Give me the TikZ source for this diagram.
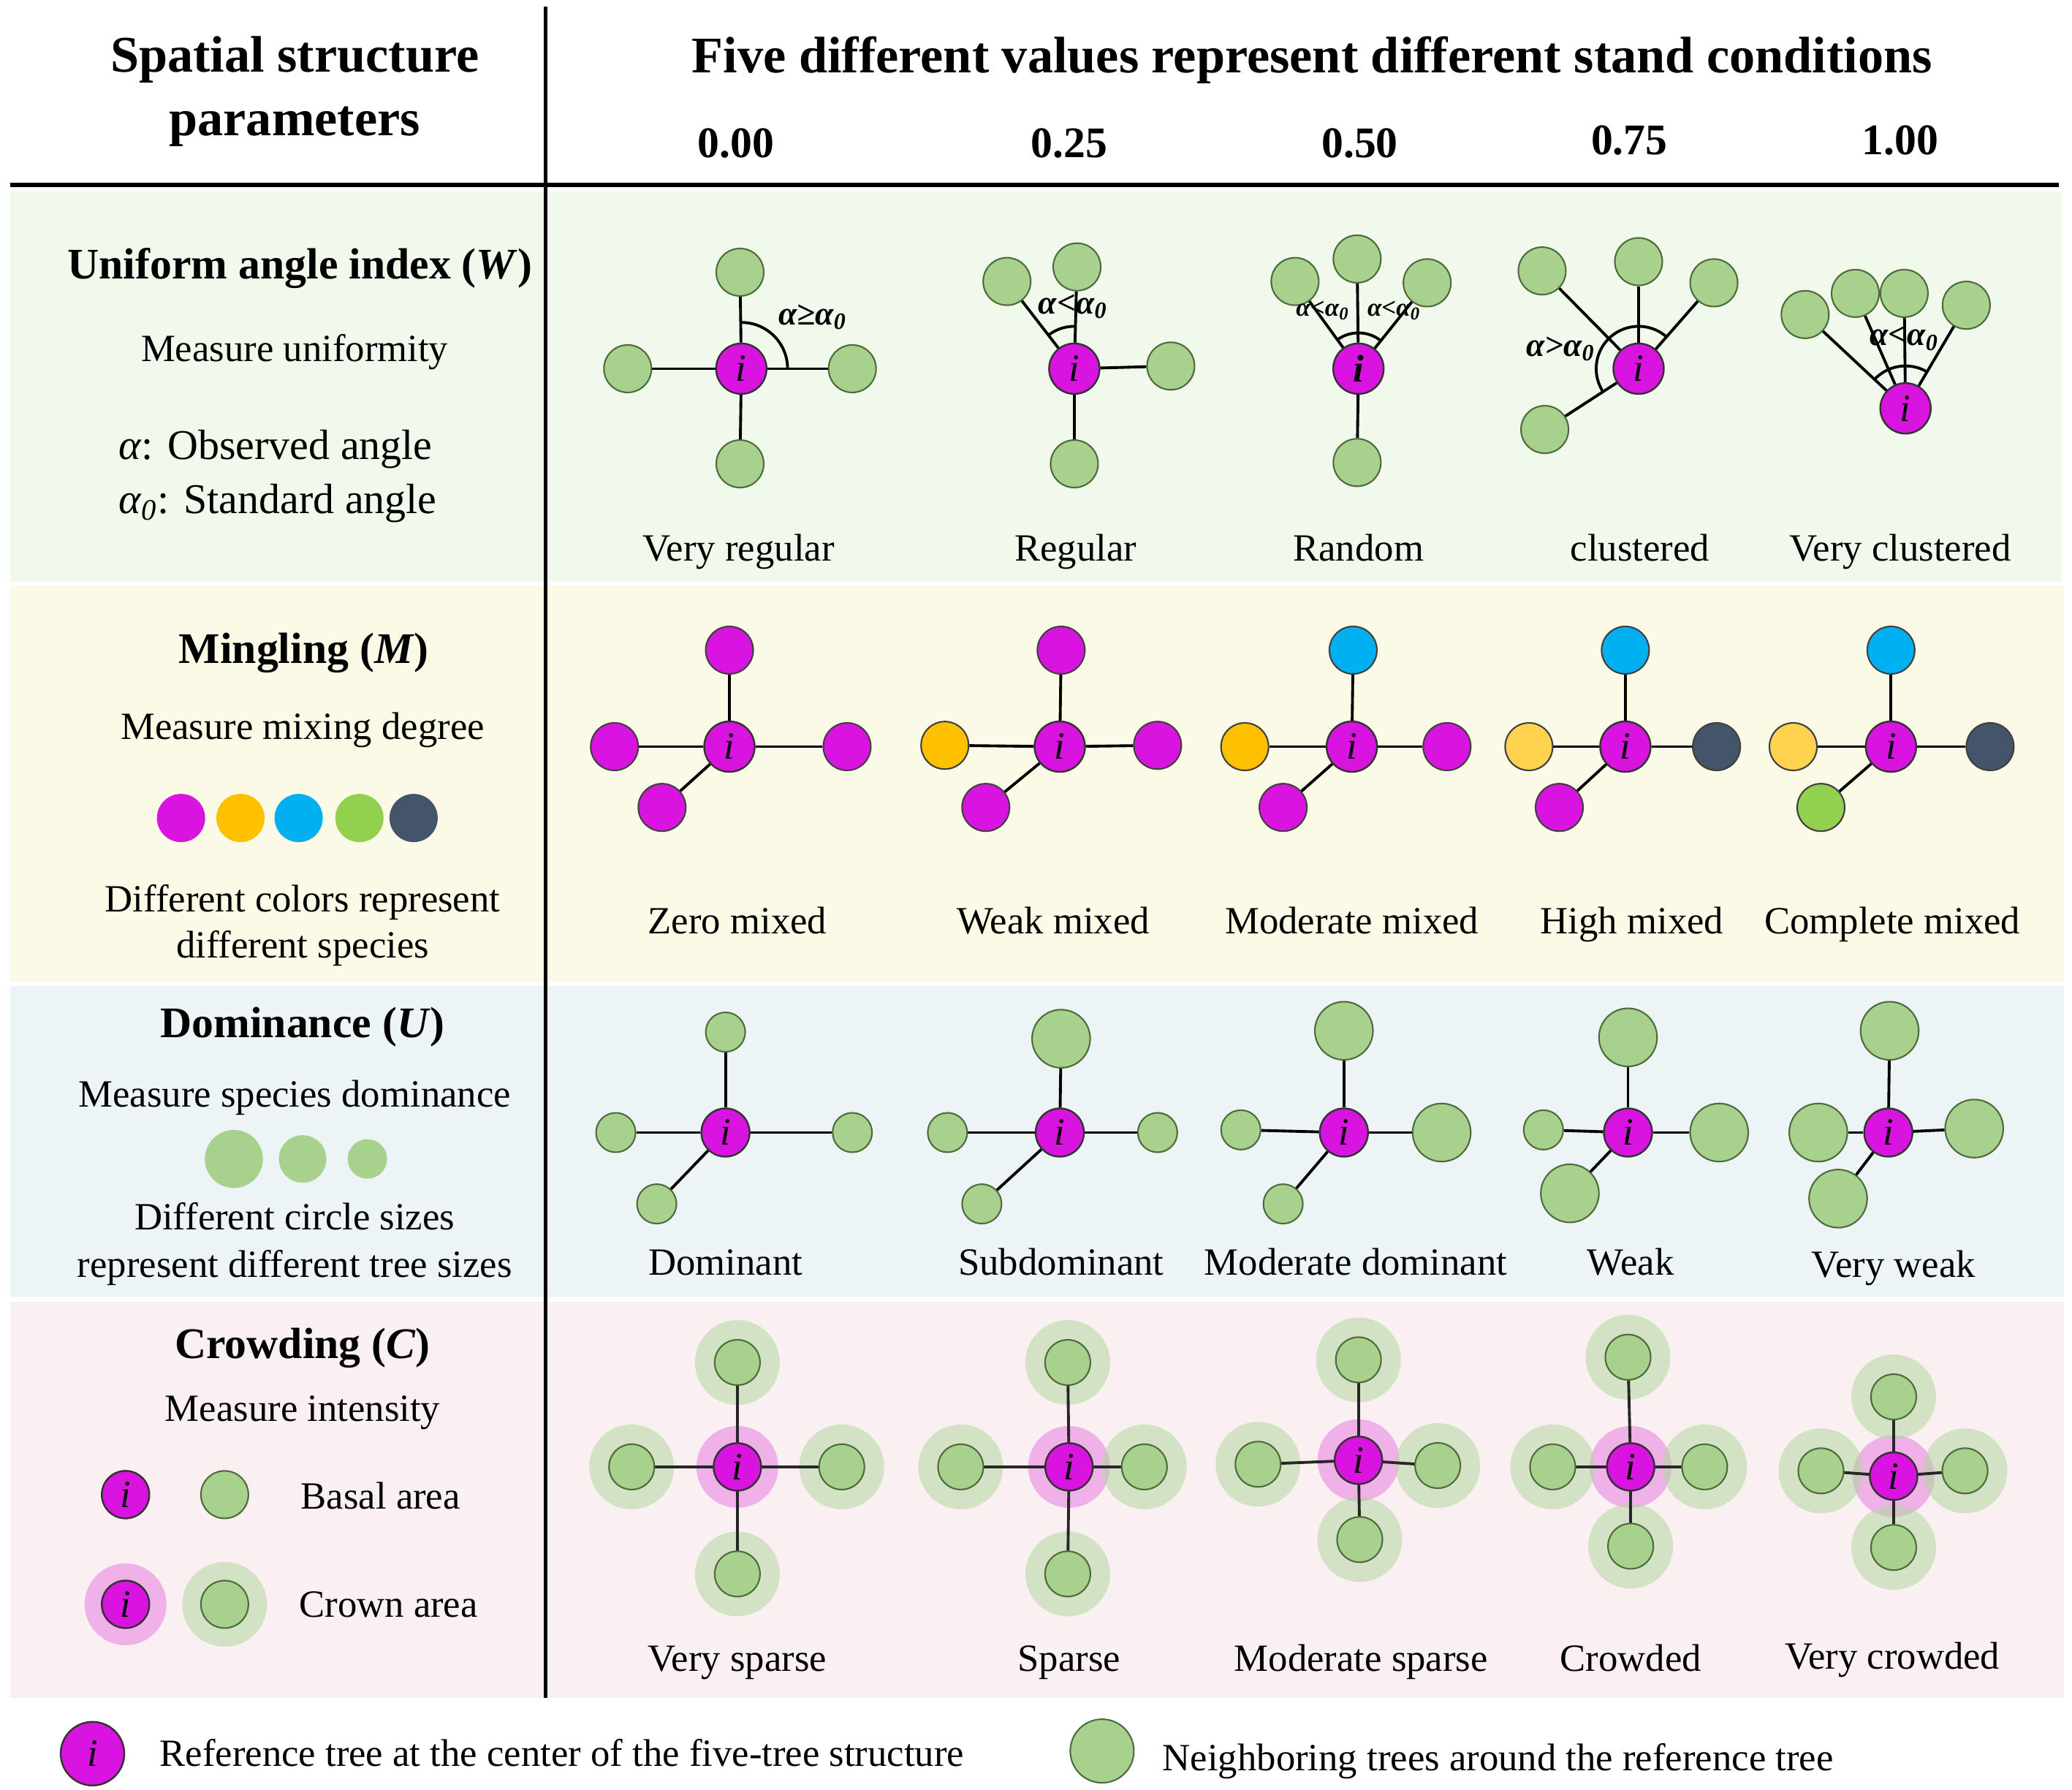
\documentclass[tikz,border=0pt]{standalone}
\usepackage{fontspec}
\setmainfont{Liberation Serif}
\definecolor{ngreen}{HTML}{A9D18E}
\definecolor{nbd}{HTML}{4E6B3C}
\definecolor{mag}{HTML}{D914E1}
\definecolor{orng}{HTML}{FFC000}
\definecolor{lorng}{HTML}{FFD34F}
\definecolor{cyn}{HTML}{00B0F0}
\definecolor{lgrn}{HTML}{92D050}
\definecolor{slate}{HTML}{44546A}
\definecolor{bgW}{HTML}{F1F8EC}
\definecolor{bgM}{HTML}{FAFAE6}
\definecolor{bgU}{HTML}{EDF4F5}
\definecolor{bgC}{HTML}{FAF0F2}
\definecolor{halom}{HTML}{E87FE3}
\definecolor{halog}{HTML}{B4D7A0}
\begin{document}
\begin{tikzpicture}[x=0.01808cm,y=-0.01808cm,
  ngr/.style={circle,draw=nbd,line width=0.6pt,fill=ngreen,inner sep=0pt,minimum size=#1},
  ngr/.default=0.65cm,
  refc/.style={circle,draw=black!80,line width=0.7pt,fill=mag,inner sep=0pt,minimum size=#1,font=\fontsize{15}{15}\selectfont\itshape},
  refc/.default=0.69cm,
  spc/.style={circle,draw=black!75,line width=0.6pt,fill=#1,inner sep=0pt,minimum size=0.65cm},
  dot/.style={circle,fill=#1,inner sep=0pt,minimum size=0.66cm},
  hm/.style={circle,fill=halom,fill opacity=0.55,inner sep=0pt,minimum size=#1},
  hm/.default=1.12cm,
  hg/.style={circle,fill=halog,fill opacity=0.55,inner sep=0pt,minimum size=#1},
  hg/.default=1.16cm,
  link/.style={line width=1.1pt},
  lab/.style={font=\fontsize{15}{18}\selectfont,text height=0.68em,text depth=0.22em,yshift=-0.095cm},
  big/.style={font=\fontsize{16.5}{20}\selectfont,text height=0.68em,text depth=0.22em,yshift=-0.095cm},
  ttl/.style={font=\fontsize{17}{20}\selectfont\bfseries,text height=0.68em,text depth=0.22em,yshift=-0.1cm},
  hdr/.style={font=\fontsize{20}{24.7}\selectfont\bfseries},
  val/.style={font=\fontsize{17}{20}\selectfont\bfseries,text height=0.68em,text depth=0.22em,yshift=-0.1cm},
  ang/.style={font=\fontsize{13}{13}\selectfont\bfseries\itshape,inner sep=1pt},
  angs/.style={font=\fontsize{10}{10}\selectfont\bfseries\itshape,inner sep=1pt}]
\useasboundingbox (0,0) rectangle (1568,1354);
\fill[white] (0,0) rectangle (1568,1354);
% row backgrounds
\fill[bgW] (8,145) rectangle (1560,440);
\fill[bgM] (8,443) rectangle (1562,743);
\fill[bgU] (8,746) rectangle (1562,982);
\fill[bgC] (8,985) rectangle (1562,1285);
% table rules
\draw[line width=1.5pt] (8,140) -- (1558,140);
\draw[line width=1.5pt] (413,5) -- (413,1285);
% header
\node[hdr,align=center] (hl) at (223,69) {Spatial structure\\parameters};
\node[hdr,text height=0.68em,text depth=0.22em,yshift=-0.12cm] (hr) at (993,44) {Five different values represent different stand conditions};
\node[val] (v1) at (557,109) {0.00};
\node[val] (v2) at (809,109) {0.25};
\node[val] (v3) at (1029,109) {0.50};
\node[val] (v4) at (1233,107) {0.75};
\node[val] (v5) at (1438,107) {1.00};

% ===== W row =====
\node[ttl] (tw) at (227,201) {Uniform angle index (\textit{W})};
\node[lab] (tw2) at (223,264) {Measure uniformity};
\node[big,anchor=west] (tw3) at (83,338) {\textit{α}: Observed angle};
\node[big,anchor=west] (tw4) at (83,379) {\textit{α}\textsubscript{\textit{0}}: Standard angle};
% col1
\node[refc] (wa) at (561,279) {i};
\node[ngr] (wa1) at (560,206) {};
\node[ngr] (wa2) at (475,279) {};
\node[ngr] (wa3) at (645,279) {};
\node[ngr] (wa4) at (560,351) {};
\foreach \n in {wa1,wa2,wa3,wa4} \draw[link] (wa) -- (\n);
\draw[link] (wa.center) ++(0:0.633cm) arc[start angle=0,end angle=90,radius=0.633cm];
\node[ang] (wal) at (615,240) {α≥α\textsubscript{0}};
% col2
\node[refc] (wb) at (813,279) {i};
\node[ngr] (wb1) at (815,202) {};
\node[ngr] (wb2) at (762,213) {};
\node[ngr] (wb3) at (886,277) {};
\node[ngr] (wb4) at (813,351) {};
\foreach \n in {wb1,wb2,wb3,wb4} \draw[link] (wb) -- (\n);
\draw[link] (wb.center) ++(88.5:0.58cm) arc[start angle=88.5,end angle=127.7,radius=0.58cm];
\node[ang] (wbl) at (812,232) {α<α\textsubscript{0}};
% col3
\node[refc] (wc) at (1028,279) {\bfseries i};
\node[ngr] (wc1) at (1027,196) {};
\node[ngr] (wc2) at (980,213) {};
\node[ngr] (wc3) at (1080,214) {};
\node[ngr] (wc4) at (1027,350) {};
\foreach \n in {wc1,wc2,wc3,wc4} \draw[link] (wc) -- (\n);
\draw[link] (wc.center) ++(51.3:0.49cm) arc[start angle=51.3,end angle=126,radius=0.49cm];
\node[angs] (wcl1) at (1001,235) {α<α\textsubscript{0}};
\node[angs] (wcl2) at (1055,235) {α<α\textsubscript{0}};
% col4
\node[refc] (wd) at (1240,279) {i};
\node[ngr] (wd1) at (1240,198) {};
\node[ngr] (wd2) at (1167,205) {};
\node[ngr] (wd3) at (1297,214) {};
\node[ngr] (wd4) at (1169,325) {};
\foreach \n in {wd1,wd2,wd3,wd4} \draw[link] (wd) -- (\n);
\draw[link] (wd.center) ++(48.8:0.58cm) arc[start angle=48.8,end angle=213,radius=0.58cm];
\node[ang] (wdl) at (1181,264) {α>α\textsubscript{0}};
% col5
\node[refc] (we) at (1442,309) {i};
\node[ngr] (we1) at (1366,238) {};
\node[ngr] (we2) at (1404,222) {};
\node[ngr] (we3) at (1441,222) {};
\node[ngr] (we4) at (1488,231) {};
\foreach \n in {we1,we2,we3,we4} \draw[link] (we) -- (\n);
\draw[link] (we.center) ++(59.5:0.58cm) arc[start angle=59.5,end angle=137,radius=0.58cm];
\node[ang] (wel) at (1441,256) {α<α\textsubscript{0}};
% labels
\node[lab] (wla) at (559,415) {Very regular};
\node[lab] (wlb) at (814,415) {Regular};
\node[lab] (wlc) at (1028,415) {Random};
\node[lab] (wld) at (1241,415) {clustered};
\node[lab] (wle) at (1438,415) {Very clustered};

% ===== M row =====
\node[ttl] (tm) at (230,492) {Mingling (\textit{M})};
\node[lab] (tm2) at (229,550) {Measure mixing degree};
\node[dot=mag] (d1) at (137,619) {};
\node[dot=orng] (d2) at (182,619) {};
\node[dot=cyn] (d3) at (226,619) {};
\node[dot=lgrn] (d4) at (272,619) {};
\node[dot=slate] (d5) at (313,619) {};
\node[lab] (tm3) at (229,680) {Different colors represent};
\node[lab] (tm4) at (229,715) {different species};
% col1
\node[refc] (ma) at (552,565) {i};
\node[spc=mag] (ma1) at (552,492) {};
\node[spc=mag] (ma2) at (465,565) {};
\node[spc=mag] (ma3) at (641,565) {};
\node[spc=mag] (ma4) at (501,611) {};
\foreach \n in {ma1,ma2,ma3,ma4} \draw[link] (ma) -- (\n);
% col2
\node[refc] (mb) at (802,565) {i};
\node[spc=mag] (mb1) at (803,492) {};
\node[spc=orng] (mb2) at (715,564) {};
\node[spc=mag] (mb3) at (876,564) {};
\node[spc=mag] (mb4) at (746,611) {};
\foreach \n in {mb1,mb2,mb3,mb4} \draw[link] (mb) -- (\n);
% col3
\node[refc] (mc) at (1023,565) {i};
\node[spc=cyn] (mc1) at (1024,492) {};
\node[spc=orng] (mc2) at (942,565) {};
\node[spc=mag] (mc3) at (1095,565) {};
\node[spc=mag] (mc4) at (971,611) {};
\foreach \n in {mc1,mc2,mc3,mc4} \draw[link] (mc) -- (\n);
% col4
\node[refc] (md) at (1230,565) {i};
\node[spc=cyn] (md1) at (1230,492) {};
\node[spc=lorng] (md2) at (1157,565) {};
\node[spc=slate] (md3) at (1299,565) {};
\node[spc=mag] (md4) at (1180,611) {};
\foreach \n in {md1,md2,md3,md4} \draw[link] (md) -- (\n);
% col5
\node[refc] (me) at (1431,565) {i};
\node[spc=cyn] (me1) at (1431,492) {};
\node[spc=lorng] (me2) at (1357,565) {};
\node[spc=slate] (me3) at (1506,565) {};
\node[spc=lgrn] (me4) at (1378,611) {};
\foreach \n in {me1,me2,me3,me4} \draw[link] (me) -- (\n);
\node[lab] (mla) at (558,697) {Zero mixed};
\node[lab] (mlb) at (797,697) {Weak mixed};
\node[lab] (mlc) at (1023,697) {Moderate mixed};
\node[lab] (mld) at (1235,697) {High mixed};
\node[lab] (mle) at (1432,697) {Complete mixed};

% ===== U row =====
\node[ttl] (tu) at (229,775) {Dominance (\textit{U})};
\node[lab] (tu2) at (223,828) {Measure species dominance};
\node[dot=ngreen,minimum size=0.795cm] (s1) at (177,877) {};
\node[dot=ngreen,minimum size=0.65cm] (s2) at (229,877) {};
\node[dot=ngreen,minimum size=0.54cm] (s3) at (278,877) {};
\node[lab] (tu3) at (223,921) {Different circle sizes};
\node[lab] (tu4) at (223,957) {represent different tree sizes};
% col1
\node[refc=0.66cm] (ua) at (549,857) {i};
\node[ngr=0.54cm] (ua1) at (549,781) {};
\node[ngr=0.54cm] (ua2) at (466,857) {};
\node[ngr=0.54cm] (ua3) at (645,857) {};
\node[ngr=0.54cm] (ua4) at (497,911) {};
\foreach \n in {ua1,ua2,ua3,ua4} \draw[link] (ua) -- (\n);
% col2
\node[refc=0.66cm] (ub) at (802,857) {i};
\node[ngr=0.795cm] (ub1) at (803,786) {};
\node[ngr=0.54cm] (ub2) at (717,857) {};
\node[ngr=0.54cm] (ub3) at (876,857) {};
\node[ngr=0.54cm] (ub4) at (743,911) {};
\foreach \n in {ub1,ub2,ub3,ub4} \draw[link] (ub) -- (\n);
% col3
\node[refc=0.66cm] (uc) at (1017,857) {i};
\node[ngr=0.795cm] (uc1) at (1017,780) {};
\node[ngr=0.54cm] (uc2) at (939,855) {};
\node[ngr=0.795cm] (uc3) at (1091,857) {};
\node[ngr=0.54cm] (uc4) at (971,911) {};
\foreach \n in {uc1,uc2,uc3,uc4} \draw[link] (uc) -- (\n);
% col4
\node[refc=0.66cm] (ud) at (1232,857) {i};
\node[ngr=0.795cm] (ud1) at (1232,785) {};
\node[ngr=0.54cm] (ud2) at (1168,855) {};
\node[ngr=0.795cm] (ud3) at (1301,857) {};
\node[ngr=0.795cm] (ud4) at (1188,903) {};
\foreach \n in {ud1,ud2,ud3,ud4} \draw[link] (ud) -- (\n);
% col5
\node[refc=0.66cm] (ue) at (1429,857) {i};
\node[ngr=0.795cm] (ue1) at (1430,780) {};
\node[ngr=0.795cm] (ue2) at (1376,857) {};
\node[ngr=0.795cm] (ue3) at (1494,854) {};
\node[ngr=0.795cm] (ue4) at (1391,907) {};
\foreach \n in {ue1,ue2,ue3,ue4} \draw[link] (ue) -- (\n);
\node[lab] (ula) at (549,955) {Dominant};
\node[lab] (ulb) at (803,955) {Subdominant};
\node[lab] (ulc) at (1026,955) {Moderate dominant};
\node[lab] (uld) at (1234,955) {Weak};
\node[lab] (ule) at (1433,957) {Very weak};

% ===== C row =====
\node[ttl] (tc) at (229,1018) {Crowding (\textit{C})};
\node[lab] (tc2) at (229,1066) {Measure intensity};
\node[refc=0.65cm] (kb1) at (95,1131) {i};
\node[ngr=0.65cm] (kb2) at (170,1131) {};
\node[lab] (kb3) at (288,1132) {Basal area};
\node[hm] (kc1h) at (95,1214) {};
\node[hg] (kc2h) at (170,1214) {};
\node[refc=0.65cm] (kc1) at (95,1214) {i};
\node[ngr=0.65cm] (kc2) at (170,1214) {};
\node[lab] (kc3) at (294,1214) {Crown area};
\foreach \c/\x/\y/\tx/\ty/\bx/\by/\lx/\ly/\rx/\ry in {
  a/558/1110/558/1031/558/1191/478/1110/637/1110,
  b/809/1110/808/1031/808/1191/727/1110/866/1110,
  c/1028/1105/1028/1029/1029/1165/952/1108/1088/1109,
  d/1234/1110/1232/1027/1234/1170/1175/1110/1290/1110,
  e/1433/1117/1433/1057/1433/1171/1378/1113/1487/1113}{
  \node[hm] (c\c h) at (\x,\y) {};
  \node[hg] (c\c 1h) at (\tx,\ty) {};
  \node[hg] (c\c 2h) at (\bx,\by) {};
  \node[hg] (c\c 3h) at (\lx,\ly) {};
  \node[hg] (c\c 4h) at (\rx,\ry) {};
  \foreach \k in {1,2,3,4} \draw[link,black!85] (c\c h.center) -- (c\c \k h.center);
  \node[refc=0.65cm] (c\c) at (\x,\y) {i};
  \node[ngr=0.62cm] (c\c 1) at (\tx,\ty) {};
  \node[ngr=0.62cm] (c\c 2) at (\bx,\by) {};
  \node[ngr=0.62cm] (c\c 3) at (\lx,\ly) {};
  \node[ngr=0.62cm] (c\c 4) at (\rx,\ry) {};
}
\node[lab] (cla) at (558,1255) {Very sparse};
\node[lab] (clb) at (809,1255) {Sparse};
\node[lab] (clc) at (1030,1255) {Moderate sparse};
\node[lab] (cld) at (1234,1255) {Crowded};
\node[lab] (cle) at (1432,1253) {Very crowded};

% ===== legend =====
\node[refc=0.87cm] (lg1) at (70,1327) {i};
\node[lab,anchor=west] (lg1t) at (114,1327) {Reference tree at the center of the five-tree structure};
\node[ngr=0.87cm] (lg2) at (834,1325) {};
\node[lab,anchor=west] (lg2t) at (873,1330) {Neighboring trees around the reference tree};
\end{tikzpicture}
\end{document}
